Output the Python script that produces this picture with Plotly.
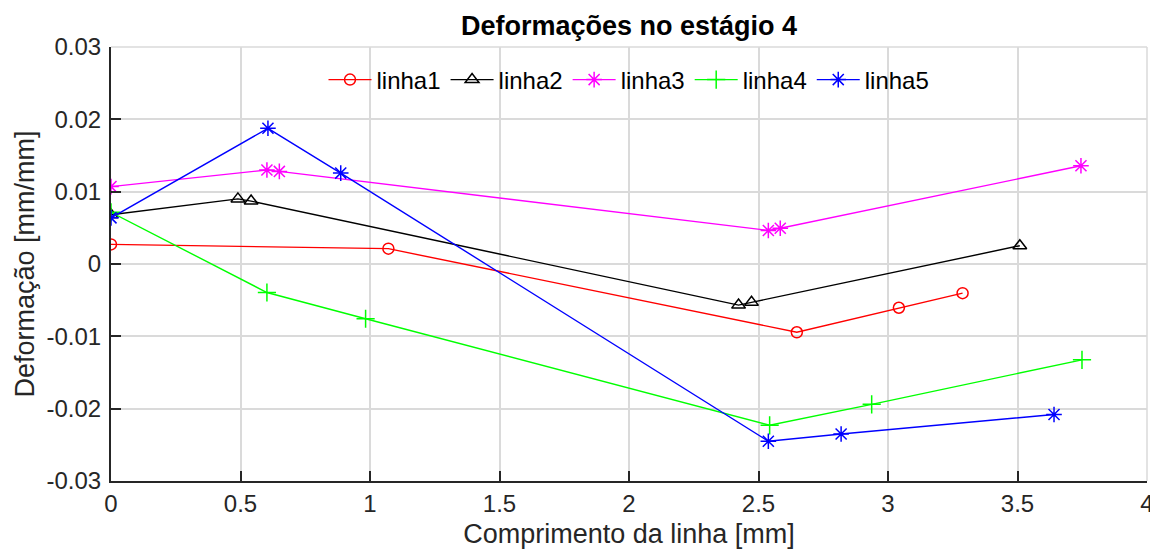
import plotly.graph_objects as go

# Data
linha1_x = [0.0, 1.071, 2.648, 3.042, 3.288]
linha1_y = [0.00271, 0.00212, -0.00944, -0.00605, -0.00403]

linha2_x = [0.0, 0.490, 0.541, 2.423, 2.473, 3.509]
linha2_y = [0.0068, 0.0090, 0.0087, -0.00568, -0.0053, 0.00253]

linha3_x = [0.0, 0.602, 0.650, 2.538, 2.584, 3.745]
linha3_y = [0.0107, 0.0130, 0.0128, 0.00464, 0.00495, 0.01358]

linha4_x = [0.0, 0.602, 0.983, 2.543, 2.937, 3.749]
linha4_y = [0.00715, -0.00394, -0.00757, -0.0223, -0.0194, -0.01325]

linha5_x = [0.0, 0.606, 0.887, 2.538, 2.819, 3.641]
linha5_y = [0.00638, 0.01876, 0.01257, -0.0245, -0.0235, -0.0208]

x_ticks = [0, 0.5, 1, 1.5, 2, 2.5, 3, 3.5, 4]
x_ticktext = ["0", "0.5", "1", "1.5", "2", "2.5", "3", "3.5", "4"]
y_ticks = [-0.03, -0.02, -0.01, 0, 0.01, 0.02, 0.03]
y_ticktext = ["-0.03", "-0.02", "-0.01", "0", "0.01", "0.02", "0.03"]

series = [
    ("linha1", linha1_x, linha1_y, "#ff0000", "circle-open", 11),
    ("linha2", linha2_x, linha2_y, "#000000", "triangle-up-open", 12),
    ("linha3", linha3_x, linha3_y, "#ff00ff", "asterisk-open", 13),
    ("linha4", linha4_x, linha4_y, "#00ff00", "cross-thin-open", 13),
    ("linha5", linha5_x, linha5_y, "#0000ff", "asterisk-open", 13),
]

FONT = "Liberation Sans, Arial, sans-serif"

fig = go.Figure()
for name, xs, ys, color, sym, size in series:
    fig.add_trace(go.Scatter(
        x=xs, y=ys, name=name, mode="lines+markers",
        line=dict(color=color, width=1.4),
        marker=dict(symbol=sym, size=size, color=color,
                    line=dict(color=color, width=1.5)),
    ))

axis_font = dict(family=FONT, size=24, color="#262626")

fig.update_layout(
    width=1158, height=555,
    margin=dict(l=103, r=19, t=39, b=82),
    paper_bgcolor="white", plot_bgcolor="white",
    font=dict(family=FONT, color="#262626"),
    title=dict(text="<b>Deformações no estágio 4</b>", xref="paper", x=0.5, xanchor="center",
               y=0.969, yanchor="middle",
               font=dict(family=FONT, size=27, color="#000000")),
    legend=dict(orientation="h", x=0.5, xanchor="center", y=0.924, yanchor="middle",
                bgcolor="rgba(0,0,0,0)", font=dict(family=FONT, size=24, color="#000000"),
                itemwidth=43, tracegroupgap=0),
    showlegend=True,
)

fig.update_xaxes(
    range=[0, 4], tickvals=x_ticks, ticktext=x_ticktext,
    showgrid=True, gridcolor="#dadada", gridwidth=1.5,
    showline=True, linecolor="#262626", linewidth=2,
    ticks="inside", ticklen=10, tickwidth=2, tickcolor="#262626",
    tickfont=axis_font, zeroline=False, mirror=False,
    title=dict(text="Comprimento da linha [mm]", font=dict(family=FONT, size=27, color="#262626"), standoff=8),
)
fig.update_yaxes(
    range=[-0.03, 0.03], tickvals=y_ticks, ticktext=y_ticktext,
    showgrid=True, gridcolor="#dadada", gridwidth=1.5,
    showline=True, linecolor="#262626", linewidth=2,
    ticks="inside", ticklen=10, tickwidth=2, tickcolor="#262626",
    tickfont=axis_font, zeroline=False, mirror=False, ticklabelstandoff=3,
    title=dict(text="Deformação [mm/mm]", font=dict(family=FONT, size=27, color="#262626"), standoff=4),
)

# light gray top/right borders as in the reference
fig.add_shape(type="line", xref="paper", yref="paper", x0=0, x1=1, y0=1, y1=1,
              line=dict(color="#dadada", width=1.5))
fig.add_shape(type="line", xref="paper", yref="paper", x0=1, x1=1, y0=0, y1=1,
              line=dict(color="#dadada", width=1.5))

fig.write_html("out.html")
